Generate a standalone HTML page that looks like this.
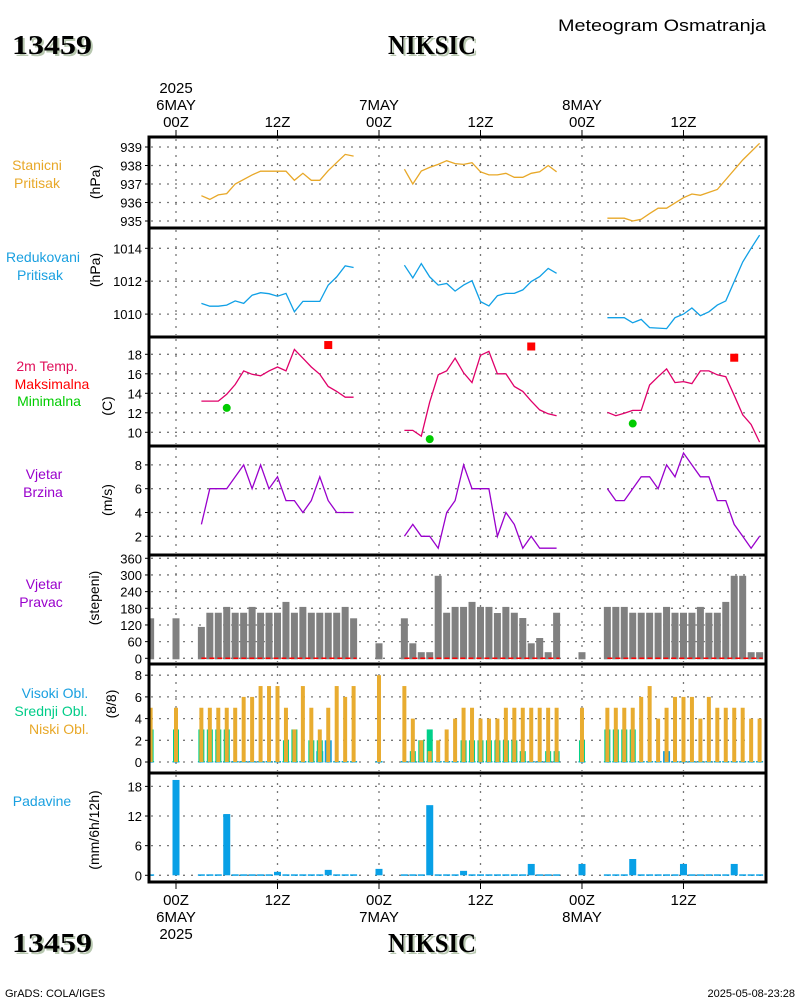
<!DOCTYPE html>
<html><head><meta charset="utf-8"><style>
body{margin:0;background:#fff;width:800px;height:1000px;overflow:hidden}
svg{display:block}
text{font-family:"Liberation Sans",sans-serif}
text.serif{font-family:"Liberation Serif",serif}
</style></head><body>
<svg id="chart" width="800" height="1000" viewBox="0 0 800 1000" xmlns="http://www.w3.org/2000/svg">
<g>
<text class="serif" x="14" y="56" font-weight="bold" font-size="27" fill="#b8c8b0" textLength="80" lengthAdjust="spacingAndGlyphs">13459</text>
<text class="serif" x="12" y="54" font-weight="bold" font-size="27" fill="#000" textLength="80" lengthAdjust="spacingAndGlyphs">13459</text>
<text class="serif" x="390" y="56" font-weight="bold" font-size="27" fill="#b8c8b0" textLength="88" lengthAdjust="spacingAndGlyphs">NIKSIC</text>
<text class="serif" x="388" y="54" font-weight="bold" font-size="27" fill="#000" textLength="88" lengthAdjust="spacingAndGlyphs">NIKSIC</text>
<text x="558" y="31" font-size="17" fill="#000" textLength="208" lengthAdjust="spacingAndGlyphs">Meteogram Osmatranja</text>
</g>
<g id="axes"></g>
<g id="marks"></g>
<g>
<text class="serif" x="14" y="954" font-weight="bold" font-size="27" fill="#b8c8b0" textLength="80" lengthAdjust="spacingAndGlyphs">13459</text>
<text class="serif" x="12" y="952" font-weight="bold" font-size="27" fill="#000" textLength="80" lengthAdjust="spacingAndGlyphs">13459</text>
<text class="serif" x="390" y="954" font-weight="bold" font-size="27" fill="#b8c8b0" textLength="88" lengthAdjust="spacingAndGlyphs">NIKSIC</text>
<text class="serif" x="388" y="952" font-weight="bold" font-size="27" fill="#000" textLength="88" lengthAdjust="spacingAndGlyphs">NIKSIC</text>
<text x="5" y="997" font-size="11" fill="#000">GrADS: COLA/IGES</text>
<text x="795" y="997" text-anchor="end" font-size="11" fill="#000">2025-05-08-23:28</text>
</g>
</svg>
<script>
// ---- data ----
const stHours=[3,4,5,6,7,9,10,13,14,15,16,17,18,20,21, 27,28,29,30,31,32,33,34,35,36,37,38,39,40,41,42,43,44,45, 51,53,54,55,56,57,58,60,61,62,64,67,69];
const stVals=[936.37,936.17,936.41,936.48,937.0,937.49,937.69,937.69,937.2,937.58,937.2,937.2,937.72,938.6,938.51, 937.8,937.0,937.7,937.9,938.06,938.26,938.1,938.06,938.15,937.66,937.49,937.49,937.58,937.36,937.36,937.58,937.66,938.0,937.66, 935.15,935.15,935.0,935.09,935.4,935.69,935.69,936.26,936.46,936.39,936.7,938.3,939.2];
const rpHours=[3,4,5,6,7,8,9,10,11,12,13,14,15,17,18,19,20,21, 27,28,29,30,31,32,33,34,35,36,37,38,39,40,41,42,43,44,45, 51,53,54,55,56,58,59,60,61,62,63,64,65,66,67,68,69];
const rpVals=[1010.65,1010.48,1010.48,1010.55,1010.8,1010.65,1011.15,1011.3,1011.24,1011.09,1011.26,1010.14,1010.77,1010.77,1011.76,1012.26,1012.93,1012.83, 1012.97,1012.2,1013.07,1012.26,1011.76,1011.86,1011.4,1011.76,1012.03,1010.76,1010.5,1011.12,1011.26,1011.26,1011.47,1011.98,1012.28,1012.78,1012.48, 1009.78,1009.78,1009.47,1009.68,1009.18,1009.12,1009.78,1010.0,1010.37,1009.9,1010.14,1010.55,1010.8,1011.98,1013.17,1014.0,1014.8];
const tHours=[3,5,6,7,8,9,10,11,12,13,14,15,16,17,18,19,20,21, 27,28,29,30,31,32,33,34,35,36,37,38,39,40,41,42,43,44,45, 51,52,53,54,55,56,57,58,59,60,61,62,63,64,65,66,67,68,69];
const tVals=[13.2,13.2,13.9,14.9,16.3,15.95,15.8,16.3,16.7,16.3,18.5,17.6,16.7,15.95,14.7,14.2,13.6,13.6, 10.2,10.2,9.6,13.1,15.9,16.3,17.6,16.1,15.1,17.9,18.3,16.0,16.0,14.7,14.2,13.2,12.3,11.9,11.7, 12.05,11.7,11.95,12.25,12.25,14.85,15.7,16.5,15.1,15.2,15.0,16.3,16.3,15.9,15.7,13.8,11.8,10.8,9.0];
const tMaxHours=[18,42,66];
const tMaxVals=[18.95,18.8,17.65];
const tMinHours=[6,30,54];
const tMinVals=[12.5,9.3,10.9];
const wsHours=[3,4,6,8,9,10,11,12,13,14,15,16,17,18,19,21, 27,28,29,30,31,32,33,34,35,37,38,39,40,41,42,43,45, 51,52,53,54,55,56,57,58,59,60,61,62,63,64,65,66,67,68,69];
const wsVals=[3,6,6,8,6,8,6,7,5,5,4,5,7,5,4,4, 2,3,2,2,1,4,5,8,6,6,2,4,3,1,2,1,1, 6,5,5,6,7,7,6,8,7,9,8,7,7,5,5,3,2,1,2];
const barHours=[-3,0,3,4,5,6,7,8,9,10,11,12,13,14,15,16,17,18,19,20,21,24,27,28,29,30,31,32,33,34,35,36,37,38,39,40,41,42,43,44,45,48,51,52,53,54,55,56,57,58,59,60,61,62,63,64,65,66,67,68,69];
const dirVals=[144,144,113,164,164,185,164,164,185,164,164,164,203,164,185,164,164,164,164,185,144,54,144,54,22,22,297,164,185,185,203,185,185,163,185,164,145,54,73,22,164,22,185,185,185,164,164,164,164,185,164,164,164,185,164,164,203,297,297,22,22];
const lowVals=[5,5,5,5,5,5,5,6,6,7,7,7,5,3,7,5,3,5,7,6,7,8,7,4,2,1,2,3,4,5,5,4,4,4,5,5,5,5,5,5,5,5,5,5,5,5,6,7,4,5,6,6,6,4,6,5,5,5,5,4,4];
const midVals=[3,3,3,3,3,3,0,0,0,0,0,0,2,3,0,2,2,0,0,0,0,0,0,1,2,3,0,0,0,2,2,2,2,2,2,2,1,0,0,1,1,2,3,3,3,3,0,0,0,0,0,0,0,0,0,0,0,0,0,0,0];
const highVals=[0,0,0,0,0,0,0,0,0,0,0,0,0,0,0,0,1,2,0,0,0,0,0,0,0,0,0,0,0,0,0,0,0,0,0,0,0,0,0,0,0,0,0,0,0,0,0,0,0,1,0,0,0,0,0,0,0,0,0,0,0];
const precVals=[0.2,19.3,0.2,0.2,0.2,12.4,0.2,0.2,0.2,0.2,0.2,0.7,0.2,0.2,0.2,0.2,0.2,1.1,0.2,0.2,0.2,1.3,0.2,0.2,0.2,14.2,0.2,0.2,0.2,0.9,0.2,0.2,0.2,0.2,0.2,0.2,0.2,2.3,0.2,0.2,0.2,2.3,0.2,0.2,0.2,3.3,0.2,0.2,0.2,0.2,0.2,2.3,0.2,0.2,0.2,0.2,0.2,2.3,0.2,0.2,0.2];
const stTicks=[935,936,937,938,939];
const rpTicks=[1010,1012,1014];
const tTicks=[10,12,14,16,18];
const wsTicks=[2,4,6,8];
const dirTicks=[0,60,120,180,240,300,360];
const cloudTicks=[0,2,4,6,8];
const precTicks=[0,6,12,18];
const timeTicks=[0,12,24,36,48,60];
const timeLabels=[["2025","6MAY","00Z"],["12Z"],["7MAY","00Z"],["12Z"],["8MAY","00Z"],["12Z"]];
const timeLabelsBottom=[["00Z","6MAY","2025"],["12Z"],["00Z","7MAY"],["12Z"],["00Z","8MAY"],["12Z"]];

// ---- scales ----
const L=149,R=766,TOP=137,BOT=882;
const X=h=>176+h*8.458;
const yST=v=>147+(939-v)*18.5;
const yRP=v=>248.3+(1014-v)*16.45;
const yT=v=>354.3+(18-v)*9.75;
const yWS=v=>536.3-(v-2)*11.9;
const yDir=v=>658.3-v*0.2778;
const yCl=v=>762-v*10.85;
const yPr=v=>875.3-v*4.94;
const NS="http://www.w3.org/2000/svg";
const axes=document.getElementById('axes'),marks=document.getElementById('marks');
function el(tag,attrs,parent){const e=document.createElementNS(NS,tag);for(const k in attrs)e.setAttribute(k,attrs[k]);(parent||marks).appendChild(e);return e;}
function txt(s,attrs,parent){const e=el('text',attrs,parent);e.textContent=s;return e;}

const panels=[[137,228],[228,337],[337,446],[446,555],[555,664],[664,773],[773,882]];
panels.forEach(p=>{timeTicks.forEach(h=>{
  const g=el('line',{x1:X(h),x2:X(h),y1:p[0]+2,y2:p[1]-2,stroke:'#777','stroke-width':1.3,'stroke-dasharray':'2,6'},axes);
  
  
});});
function yaxis(ticks,f,name){ticks.forEach(t=>{
  const y=f(t);
  const g=el('line',{x1:L+2,x2:R-2,y1:y,y2:y,stroke:'#777','stroke-width':1.3,'stroke-dasharray':'2,6'},axes);
  
  
  const tk=el('line',{x1:L-4,x2:L,y1:y,y2:y,stroke:'#000','stroke-width':1},axes);
  
  
  const tl=txt(String(t),{x:L-7,y:y+5,'text-anchor':'end','font-size':13,fill:'#000'},axes);
  
  
});}
yaxis(stTicks,yST,'station-pressure');
yaxis(rpTicks,yRP,'reduced-pressure');
yaxis(tTicks,yT,'temperature');
yaxis(wsTicks,yWS,'wind-speed');
yaxis(dirTicks,yDir,'wind-direction');
yaxis(cloudTicks,yCl,'cloud-cover');
yaxis(precTicks,yPr,'precipitation');

timeTicks.forEach((h,i)=>{
  const x=X(h);
  const t1=el('line',{x1:x,x2:x,y1:130,y2:137,stroke:'#000','stroke-width':1},axes);
  
  
  const t2=el('line',{x1:x,x2:x,y1:882,y2:889,stroke:'#000','stroke-width':1},axes);
  
  
  const lt=timeLabels[i];
  lt.forEach((s,j)=>{const t=txt(s,{x:x,y:127-(lt.length-1-j)*17,'text-anchor':'middle','font-size':15,fill:'#000'},axes);
    
    });
  timeLabelsBottom[i].forEach((s,j)=>{const t=txt(s,{x:x,y:905+j*17,'text-anchor':'middle','font-size':15,fill:'#000'},axes);
    
    });
});

const labels=[
 ['Stanicni',37,170,'#e8a828'],['Pritisak',37,188,'#e8a828'],
 ['Redukovani',43,262,'#1aa0e0'],['Pritisak',40,280,'#1aa0e0'],
 ['2m Temp.',47,371,'#e0105a'],['Maksimalna',52,389,'#ff0000'],['Minimalna',49,406,'#00cc00'],
 ['Vjetar',44,479,'#9900cc'],['Brzina',43,497,'#9900cc'],
 ['Vjetar',44,589,'#9900cc'],['Pravac',41,607,'#9900cc'],
 ['Visoki Obl.',55,698,'#1aa0e0'],['Srednji Obl.',51,716,'#00cc88'],['Niski Obl.',59,734,'#e8a828'],
 ['Padavine',42,806,'#1aa0e0']];
labels.forEach(l=>{const t=txt(l[0],{x:l[1],y:l[2],'text-anchor':'middle','font-size':14,fill:l[3]},axes);
  
  });
const units=[['(hPa)',100,182],['(hPa)',100,270],['(C)',112,406],['(m/s)',112,500],['(stepeni)',99,598],['(8/8)',116,704],['(mm/6h/12h)',99,830]];
units.forEach(u=>{const t=txt(u[0],{x:u[1],y:u[2],'text-anchor':'middle','font-size':14,fill:'#000',transform:`rotate(-90 ${u[1]} ${u[2]})`},axes);
  
  });

function series(hours,vals,f,color,name){
  let segs=[],cur=[];
  hours.forEach((h,i)=>{if(cur.length&&h-hours[i-1]>4){segs.push(cur);cur=[];}cur.push(X(h).toFixed(1)+','+f(vals[i]).toFixed(1));});
  if(cur.length)segs.push(cur);
  segs.forEach(s=>{const p=el('polyline',{points:s.join(' '),fill:'none',stroke:color,'stroke-width':1.3});
    
    });
}
series(stHours,stVals,yST,'#e8a828','station-pressure-line');
series(rpHours,rpVals,yRP,'#10a0e6','reduced-pressure-line');
series(tHours,tVals,yT,'#e0006a','temperature-line');
series(wsHours,wsVals,yWS,'#9900cc','wind-speed-line');
tMaxHours.forEach((h,i)=>{const r=el('rect',{x:X(h)-4,y:yT(tMaxVals[i])-4,width:8,height:8,fill:'#ff0000'});
  
  });
tMinHours.forEach((h,i)=>{const c=el('circle',{cx:X(h),cy:yT(tMinVals[i]),r:4,fill:'#00cc00'});
  
  });

barHours.forEach((h,i)=>{
  const x=X(h);
  const d=el('rect',{x:x-3.5,y:yDir(dirVals[i]),width:7,height:yDir(0)-yDir(dirVals[i])+1,fill:'#808080'});
  
  
  const b0=el('rect',{x:x-3.5,y:yCl(0)-1,width:7,height:1.5,fill:'#10a8d0'});
  
  
  if(highVals[i]>0){const hb=el('rect',{x:x-3.5,y:yCl(highVals[i]),width:7,height:yCl(0)-yCl(highVals[i]),fill:'#10a0e6'});
    
    }
  if(midVals[i]>0){const mb=el('rect',{x:x-3,y:yCl(midVals[i]),width:6,height:yCl(0)-yCl(midVals[i]),fill:'#00d08a'});
    
    }
  if(lowVals[i]>0){const lb=el('rect',{x:x-2,y:yCl(lowVals[i]),width:4,height:yCl(0)-yCl(lowVals[i]),fill:'#e8ac30'});
    
    }
  const pv=precVals[i];
  const pb=el('rect',{x:x-3.5,y:yPr(pv),width:7,height:Math.max(1.5,yPr(0)-yPr(pv)),fill:'#08a0e6'});
  
  
});
[[3,21],[27,45],[51,69]].forEach(s=>{const l=el('line',{x1:X(s[0]),x2:X(s[1])+3,y1:yDir(0),y2:yDir(0),stroke:'#ff0000','stroke-width':1.5,'stroke-dasharray':'5,3'});
  
  });

const fr=el('rect',{x:L,y:TOP,width:R-L,height:BOT-TOP,fill:'none',stroke:'#000','stroke-width':3});


panels.slice(1).forEach(p=>{const l=el('line',{x1:L,x2:R,y1:p[0],y2:p[0],stroke:'#000','stroke-width':3});
  
  });
document.querySelectorAll('#marks rect').forEach(r=>{const x=+r.getAttribute('x'),w=+r.getAttribute('width');if(x<L){r.setAttribute('width',Math.max(0,x+w-L));r.setAttribute('x',L);}});
</script>
</body></html>
